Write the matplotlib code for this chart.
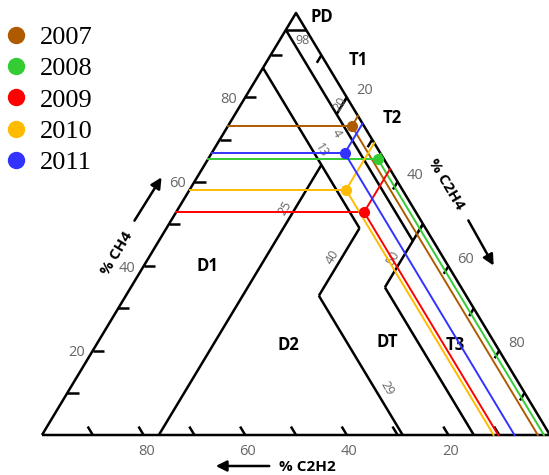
import matplotlib
matplotlib.use("Agg")
import matplotlib.pyplot as plt
from matplotlib.lines import Line2D

# Duval triangle samples, % of (CH4, C2H4, C2H2)
years = ["2007", "2008", "2009", "2010", "2011"]
colors = ["#b05a00", "#33cc33", "#ff0000", "#ffbb00", "#3333ff"]
ch4 = [73.2, 65.4, 52.8, 58.1, 66.8]
c2h4 = [24.4, 33.4, 37.0, 30.8, 26.2]
c2h2 = [2.4, 1.2, 10.2, 11.1, 7.0]

# zone boundary segments, end points as (CH4, C2H4)
zone_lines = [
    [(96, 0), (96, 4)],
    [(96, 0), (46, 50)],
    [(80, 20), (76, 20)],
    [(50, 50), (35, 50)],
    [(35, 50), (0, 85)],
    [(87, 0), (49, 38)],
    [(0, 23), (64, 23)],
    [(49, 38), (33, 38)],
    [(33, 38), (0, 71)],
]
tick_vals = [10, 20, 30, 40, 50, 60, 70, 80, 90]
label_vals = [20, 40, 60, 80]


def tern(a, b):
    # a = %CH4, b = %C2H4 -> cartesian
    return b + a / 2.0, a


def pix(x, y):
    return (x - 42) / 5.08, (435 - y) / 4.22


fig = plt.figure(figsize=(5.49, 4.75), dpi=100)
ax = fig.add_axes([0, 0, 1, 1])
ax.set_xlim(-42 / 5.08, 507 / 5.08)
ax.set_ylim(-40 / 4.22, 435 / 4.22)
ax.axis("off")

k = dict(color="black", lw=1.8, solid_capstyle="butt", zorder=2)

# outline
corners = [tern(0, 0), tern(100, 0), tern(0, 100), tern(0, 0)]
ax.plot([p[0] for p in corners], [p[1] for p in corners], **k)

for (p, q) in zone_lines:
    x1, y1 = tern(*p)
    x2, y2 = tern(*q)
    ax.plot([x1, x2], [y1, y2], **k)

# ticks
for v in tick_vals:
    x, y = tern(v, 0)
    ax.plot([x, x + 2.2], [y, y], **k)
    x, y = tern(100 - v, v)
    ax.plot([x, x - 0.9], [y, y - 1.8], **k)
    x, y = tern(0, 100 - v)
    ax.plot([x, x - 1.0], [y, y + 2.0], **k)

grey = "#666666"
lf = dict(color=grey, fontsize=10.5, family="Open Sans")
for v in label_vals:
    x, y = tern(v, 0)
    ax.text(x - 1.6, y - 0.5, str(v), ha="right", va="center", **lf)
    x, y = tern(100 - v, v)
    ax.text(x + 1.8, y + 1.6, str(v), ha="left", va="center", **lf)
    x, y = tern(0, 100 - v)
    ax.text(x + 0.5, y - 4.0, str(v), ha="center", va="center", **lf)

# boundary value labels
sf = dict(color=grey, fontsize=9, family="Open Sans", ha="center", va="center")
for txt, px, py, rot in [("98", 302, 41, 0), ("20", 340, 104, 59), ("4", 337, 133, -59),
                         ("13", 322, 150, -59), ("25", 285, 208, 59), ("40", 332, 257, 59),
                         ("50", 393, 258, 59), ("29", 387, 388, -59)]:
    ax.text(*pix(px, py), txt, rotation=rot, **sf)

# zone names
zf = dict(color="black", fontsize=12, fontweight="bold", family="Open Sans",
          ha="center", va="center")
for txt, px, py in [("PD", 322, 17), ("T1", 358, 60), ("T2", 392, 118), ("D1", 207, 266),
                    ("D2", 288, 345), ("DT", 387, 342), ("T3", 455, 345)]:
    ax.text(*pix(px, py), txt, **zf)

# axis titles and arrows
af = dict(color="black", fontsize=11, fontweight="bold", family="Open Sans",
          ha="center", va="center")
ax.text(*pix(117, 253), "% CH4", rotation=59, **af)
ax.text(*pix(446, 184), "% C2H4", rotation=-59, **af)
ax.text(*pix(307, 467), "% C2H2", **af)
arr = dict(arrowstyle="-|>", color="black", lw=1.8, mutation_scale=16)
for (x0, y0, x1, y1) in [(133, 223, 163, 175), (467, 218, 495, 268), (272, 466, 213, 466)]:
    ax.annotate("", xy=pix(x1, y1), xytext=pix(x0, y0), arrowprops=arr)

# sample points with their read-out lines
for i in range(len(years)):
    a, b, c = ch4[i], c2h4[i], c2h2[i]
    x, y = tern(a, b)
    xl, yl = tern(a, 0)
    xr, yr = tern(100 - b, b)
    xb, yb = tern(0, 100 - c)
    ax.plot([xl, x], [yl, y], color=colors[i], lw=1.4, zorder=3)
    ax.plot([x, xr], [y, yr], color=colors[i], lw=1.4, zorder=3)
    ax.plot([x, xb], [y, yb], color=colors[i], lw=1.4, zorder=3)
    ax.plot(x, y, "o", color=colors[i], ms=7, zorder=4)

handles = [Line2D([], [], ls="none", marker="o", ms=11.5, color=col) for col in colors]
fig.legend(handles, years, loc="upper left", bbox_to_anchor=(0.0, 1 - 20 / 475),
           frameon=False, prop={"family": "Liberation Serif", "size": 19},
           labelspacing=0.3, handlelength=0.8, handletextpad=0.5, borderpad=0.2,
           borderaxespad=0)

fig.savefig("out.png", dpi=100)
